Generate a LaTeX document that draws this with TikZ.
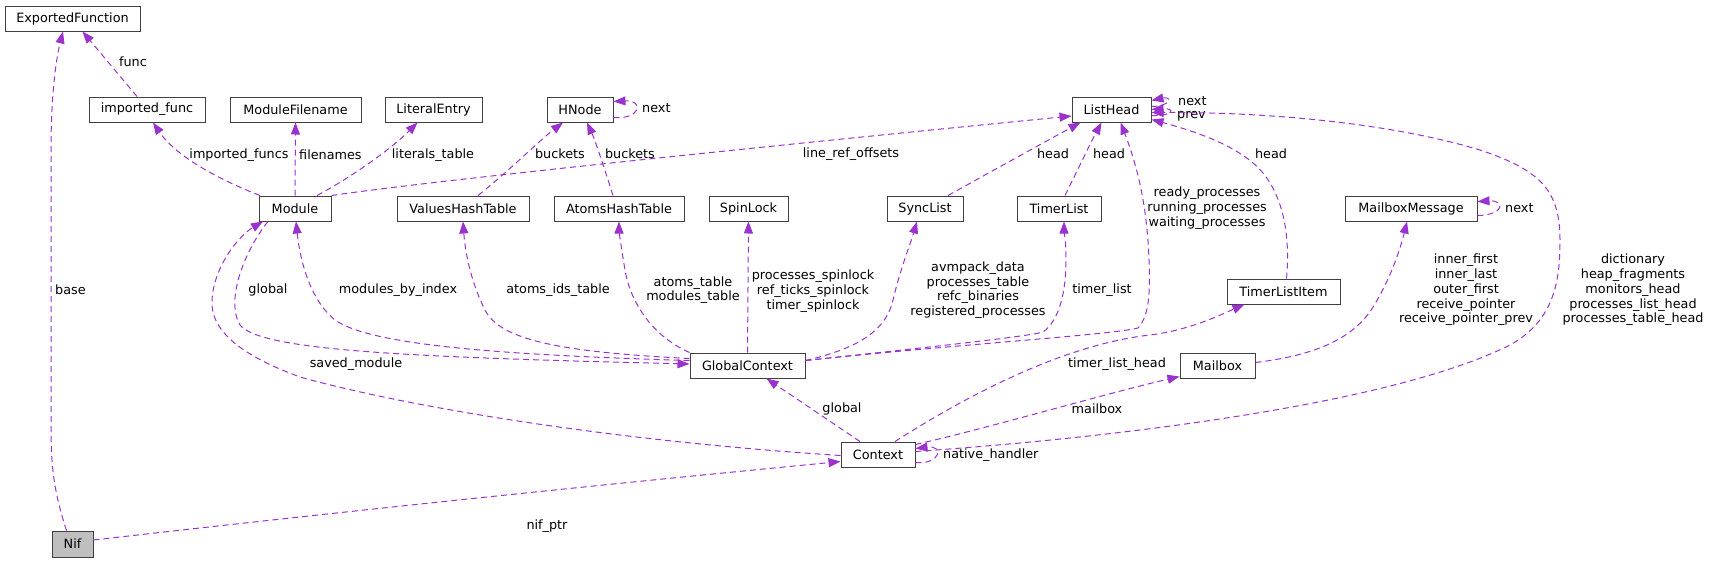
\documentclass[tikz,border=0pt]{standalone}
\usepackage{fontspec}
\newfontfamily\dvs{DejaVu Sans}
\usetikzlibrary{arrows.meta}
\definecolor{edgec}{HTML}{9A32CD}
\definecolor{boxc}{HTML}{404040}
\definecolor{nifc}{HTML}{BFBFBF}
\newcommand\dvfont{\dvs\fontsize{12.8}{14.7}\selectfont}
\begin{document}
\begin{tikzpicture}[x=1pt,y=-1pt,
  box/.style={draw=boxc, line width=1pt, fill=white, inner sep=0pt, minimum height=25pt, font=\dvfont, text=black},
  lnk/.style={draw=edgec, line width=1pt, dash pattern=on 6pt off 4pt, -{Triangle[length=12pt,width=9pt]}},
  lbl/.style={font=\dvfont, inner sep=0pt, align=center, text=black}]
\useasboundingbox (0,0) rectangle (1711,563);
% nodes
\node[box, minimum width=135pt] (EF) at (72.5,18.5) {ExportedFunction};
\node[box, minimum width=116pt] (IF) at (147,109.5) {imported\_func};
\node[box, minimum width=131pt] (MF) at (295.5,109.5) {ModuleFilename};
\node[box, minimum width=97pt] (LE) at (433.5,109.5) {LiteralEntry};
\node[box, minimum width=66pt] (HN) at (580,109.5) {HNode};
\node[box, minimum width=79pt] (LH) at (1111.5,109.5) {ListHead};
\node[box, minimum width=72pt] (MO) at (295,208.5) {Module};
\node[box, minimum width=132pt] (VH) at (463,208.5) {ValuesHashTable};
\node[box, minimum width=130pt] (AH) at (619,208.5) {AtomsHashTable};
\node[box, minimum width=79pt] (SL) at (748.5,208.5) {SpinLock};
\node[box, minimum width=76pt] (SY) at (925,208.5) {SyncList};
\node[box, minimum width=84pt] (TL) at (1059,208.5) {TimerList};
\node[box, minimum width=132pt] (MM) at (1411,208.5) {MailboxMessage};
\node[box, minimum width=113pt] (TI) at (1283.5,291.5) {TimerListItem};
\node[box, minimum width=115pt] (GC) at (747.5,365.5) {GlobalContext};
\node[box, minimum width=75pt] (MB) at (1217.5,365.5) {Mailbox};
\node[box, minimum width=74pt] (CT) at (878,454.5) {Context};
\node[box, minimum width=41pt, minimum height=26pt, fill=nifc] (NF) at (72.5,544) {Nif};
% edges
\draw[lnk] ([xshift=-6pt]NF.north) .. controls (55,495) and (51,470) .. (51,430) -- (51,150) .. controls (51,90) and (57,55) .. ([xshift=-9.5pt]EF.south);
\node[lbl, anchor=west] (l1) at (55,290) {base};
\draw[lnk] ([xshift=-10pt]IF.north) -- ([xshift=10pt]EF.south);
\node[lbl] (l2) at (133,62) {func};
\draw[lnk] ([xshift=-35pt]MO.north) .. controls (215,178) and (175,155) .. ([xshift=6pt]IF.south);
\node[lbl] (l3) at (239,155) {imported\_funcs};
\draw[lnk] (MO.north) -- (MF.south);
\node[lbl, anchor=west] (l4) at (299,155) {filenames};
\draw[lnk] ([xshift=22pt]MO.north) .. controls (350,178) and (390,150) .. ([xshift=-16pt]LE.south);
\node[lbl] (l5) at (433,155) {literals\_table};
\draw[lnk] (MO.north east) .. controls (450,178) and (900,133) .. ([yshift=-6.5pt]LH.west);
\node[lbl] (l6) at (851,154) {line\_ref\_offsets};
\draw[lnk] ([xshift=15pt]VH.north) .. controls (510,170) and (540,140) .. ([xshift=-17pt]HN.south);
\node[lbl] (l7) at (560,154) {buckets};
\draw[lnk] ([xshift=-6pt]AH.north) .. controls (605,170) and (595,140) .. ([xshift=7pt]HN.south);
\node[lbl] (l8) at (630,154) {buckets};
\draw[lnk] ([yshift=-8pt]HN.east) .. controls (640,120) and (645,100) .. ([yshift=8pt]HN.east);
\node[lbl, anchor=west] (l9) at (642,108) {next};
\draw[lnk] ([yshift=3pt]LH.east) .. controls (1172,106) and (1172,96) .. ([yshift=9pt]LH.east);
\node[lbl, anchor=west] (l10) at (1178,101) {next};
\draw[lnk] ([yshift=-6pt]LH.east) .. controls (1175,116) and (1175,108) .. ([yshift=0pt]LH.east);
\node[lbl, anchor=west] (l11) at (1177,116) {prev};
\draw[lnk] ([xshift=23pt]SY.north) .. controls (985,175) and (1030,150) .. ([xshift=-31pt]LH.south);
\node[lbl] (l12) at (1053,154) {head};
\draw[lnk] ([xshift=6pt]TL.north) .. controls (1080,165) and (1092,140) .. ([xshift=-10pt]LH.south);
\node[lbl] (l13) at (1109,154) {head};
\draw[lnk] ([yshift=5pt]GC.east) .. controls (950,345) and (1110,335) .. (1138,328) .. controls (1150,315) and (1150,290) .. (1149,260) .. controls (1147,200) and (1135,160) .. ([xshift=9pt]LH.south);
\node[lbl] (l14) at (1207,208) {ready\_processes\\running\_processes\\waiting\_processes};
\draw[lnk] ([xshift=3pt]TI.north) .. controls (1290,240) and (1285,200) .. (1263,173) .. controls (1240,145) and (1190,130) .. ([yshift=-10pt]LH.east);
\node[lbl] (l15) at (1271,154) {head};
\draw[lnk] ([yshift=5pt]GC.east) .. controls (850,350) and (885,335) .. (893,300) .. controls (900,270) and (910,245) .. ([xshift=-8pt]SY.south);
\node[lbl] (l16) at (978,290) {avmpack\_data\\processes\_table\\refc\_binaries\\registered\_processes};
\draw[lnk] ([yshift=5pt]GC.east) .. controls (950,345) and (1030,336) .. (1043,332) .. controls (1060,320) and (1066,290) .. (1066,260) .. controls (1066,240) and (1064,230) .. ([xshift=5pt]TL.south);
\node[lbl] (l17) at (1102,290) {timer\_list};
\draw[lnk] ([xshift=17pt]CT.north) .. controls (960,400) and (1060,345) .. (1150,335) .. controls (1190,330) and (1220,315) .. ([xshift=-39pt]TI.south);
\node[lbl] (l18) at (1117,364) {timer\_list\_head};
\draw[lnk] ([xshift=-18pt]CT.north) -- ([xshift=19pt]GC.south);
\node[lbl] (l19) at (842,409) {global};
\draw[lnk] ([yshift=10pt]CT.east) .. controls (1000,425) and (1100,395) .. ([yshift=2pt]MB.south west);
\node[lbl] (l20) at (1097,409) {mailbox};
\draw[lnk] ([yshift=-8pt]CT.east) .. controls (940,465) and (945,445) .. ([yshift=6pt]CT.east);
\node[lbl, anchor=west] (l21) at (943,455) {native\_handler};
\draw[lnk] ([yshift=3pt]CT.east) .. controls (1150,435) and (1400,400) .. (1510,345) .. controls (1555,320) and (1560,280) .. (1560,240) .. controls (1560,190) and (1540,170) .. (1480,150) .. controls (1380,120) and (1250,112) .. ([yshift=-3pt]LH.east);
\node[lbl] (l22) at (1633,290) {dictionary\\heap\_fragments\\monitors\_head\\processes\_list\_head\\processes\_table\_head};
\draw[lnk] ([yshift=3pt]MB.east) .. controls (1300,357) and (1350,345) .. (1373,307) .. controls (1390,280) and (1400,250) .. ([xshift=-4pt]MM.south);
\node[lbl] (l23) at (1466,290) {inner\_first\\inner\_last\\outer\_first\\receive\_pointer\\receive\_pointer\_prev};
\draw[lnk] ([yshift=-7pt]MM.east) .. controls (1505,215) and (1505,200) .. ([yshift=7pt]MM.east);
\node[lbl, anchor=west] (l24) at (1505,208) {next};
\draw[lnk] ([yshift=-1pt]CT.west) .. controls (600,440) and (400,405) .. (300,377) .. controls (240,355) and (210,330) .. (212,300) .. controls (214,265) and (240,235) .. ([xshift=-32pt]MO.south);
\node[lbl] (l25) at (356,364) {saved\_module};
\draw[lnk] ([xshift=-27pt]MO.south) .. controls (245,250) and (225,300) .. (240,325) .. controls (260,350) and (400,357) .. ([yshift=1.5pt]GC.west);
\node[lbl] (l26) at (268,290) {global};
\draw[lnk] ([yshift=5pt]GC.west) .. controls (500,355) and (370,345) .. (335,320) .. controls (310,300) and (300,260) .. ([xshift=1pt]MO.south);
\node[lbl] (l27) at (398,290) {modules\_by\_index};
\draw[lnk] ([yshift=7pt]GC.west) .. controls (560,352) and (500,340) .. (485,310) .. controls (470,280) and (465,250) .. (VH.south);
\node[lbl] (l28) at (558,290) {atoms\_ids\_table};
\draw[lnk] (GC.north west) .. controls (650,335) and (630,300) .. (625,270) .. controls (620,240) and (619,230) .. (AH.south);
\node[lbl] (l29) at (693,290) {atoms\_table\\modules\_table};
\draw[lnk] (GC.north) -- (SL.south);
\node[lbl] (l30) at (813,291) {processes\_spinlock\\ref\_ticks\_spinlock\\timer\_spinlock};
\draw[lnk] ([yshift=4pt]NF.east) .. controls (400,505) and (650,480) .. ([yshift=-7pt]CT.west);
\node[lbl] (l31) at (547,526) {nif\_ptr};
\end{tikzpicture}
\end{document}
